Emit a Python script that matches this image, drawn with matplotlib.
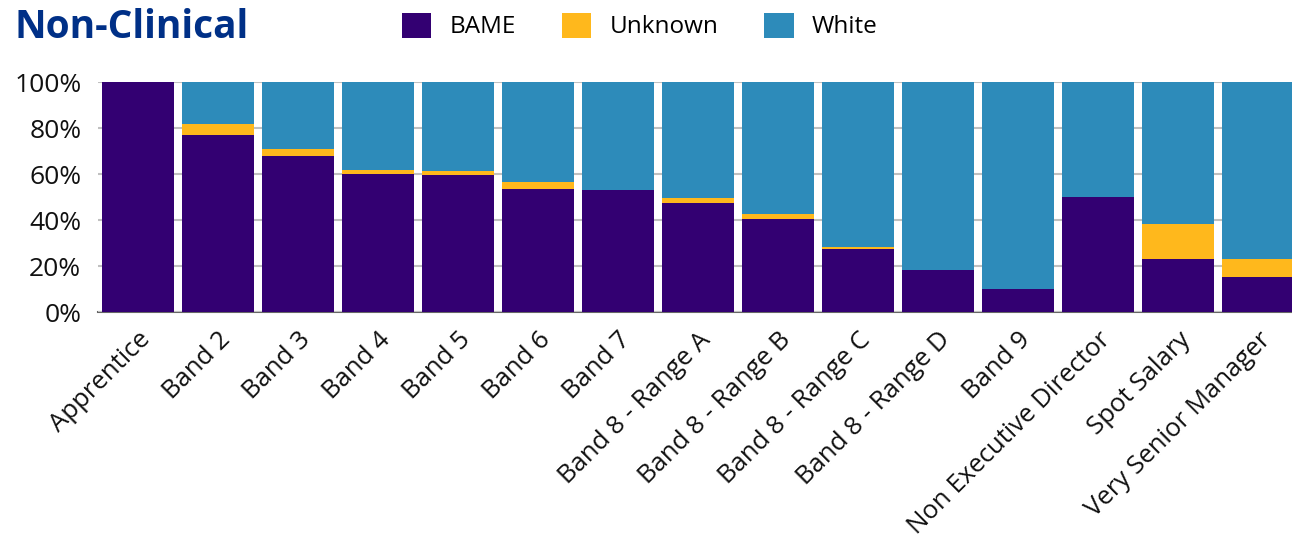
import numpy as np
import matplotlib

matplotlib.use("Agg")
import matplotlib.pyplot as plt
from matplotlib.ticker import PercentFormatter

plt.rcParams["font.family"] = ["Open Sans", "DejaVu Sans"]

# --- data (percent of staff per pay band) ---
bands = [
    "Apprentice", "Band 2", "Band 3", "Band 4", "Band 5", "Band 6", "Band 7",
    "Band 8 - Range A", "Band 8 - Range B", "Band 8 - Range C",
    "Band 8 - Range D", "Band 9", "Non Executive Director", "Spot Salary",
    "Very Senior Manager",
]
bame = [100.0, 76.8, 67.7, 59.9, 59.4, 53.3, 52.9, 47.2, 40.3, 27.2, 18.1, 9.9, 50.0, 22.9, 15.1]
unknown = [0.0, 4.8, 3.0, 1.7, 1.8, 3.1, 0.0, 2.2, 2.2, 0.9, 0.0, 0.0, 0.0, 15.2, 7.8]
white = [100 - b - u for b, u in zip(bame, unknown)]

C_BAME = "#330072"
C_UNK = "#FFB81C"
C_WHITE = "#2D8BBA"

fig = plt.figure(figsize=(12.92, 5.43), dpi=100)
ax = fig.add_axes([98 / 1292, 231 / 543, 1194 / 1292, 230 / 543])

x = np.arange(len(bands))
w = 0.9
b1 = ax.bar(x, bame, w, color=C_BAME, label="BAME", zorder=3)
b2 = ax.bar(x, unknown, w, bottom=bame, color=C_UNK, label="Unknown", zorder=3)
b3 = ax.bar(x, white, w, bottom=np.add(bame, unknown), color=C_WHITE, label="White", zorder=3)

ax.set_xlim(-0.5, len(bands) - 0.575)
ax.set_ylim(0, 100)
ax.set_yticks(np.arange(0, 101, 20))
ax.yaxis.set_major_formatter(PercentFormatter(decimals=0))
ax.grid(axis="y", color="#c0c0c0", lw=1.5, zorder=0)
for s in ("top", "right", "left"):
    ax.spines[s].set_visible(False)
ax.spines["bottom"].set_color("#666666")
ax.spines["bottom"].set_linewidth(1.5)
ax.spines["bottom"].set_zorder(1)
ax.tick_params(axis="both", length=0, colors="#111111")
ax.tick_params(axis="y", pad=12, labelsize=19)
ax.set_xticks(x)
ax.set_xticklabels(bands, rotation=45, ha="right", rotation_mode="anchor", fontsize=18.5)
for lbl in ax.get_xticklabels():
    lbl.set_y(-0.045)

fig.text(15 / 1292, 1 - 28 / 543, "Non-Clinical", fontsize=28, fontweight="bold",
         color="#003087", va="center", ha="left")

fig.legend(handles=[b1, b2, b3], loc="center left", bbox_to_anchor=(402 / 1292, 1 - 26 / 543),
           ncol=3, frameon=False, fontsize=17.5, handlelength=1.2, handleheight=1.2,
           handletextpad=0.75, columnspacing=1.9, borderaxespad=0, borderpad=0)

fig.savefig("out.png", dpi=100)
